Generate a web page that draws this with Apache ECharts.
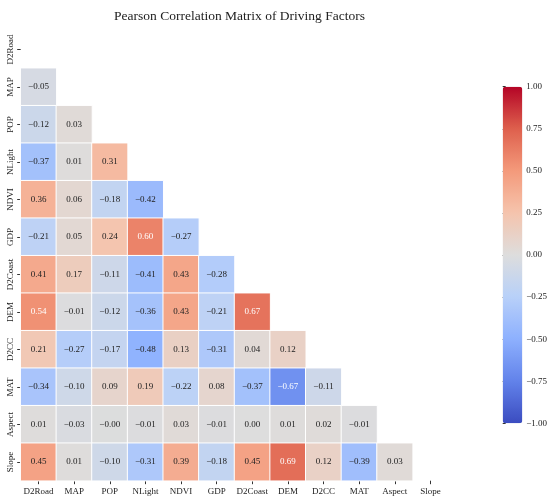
<!DOCTYPE html>
<html lang="en">
<head>
<meta charset="utf-8" />
<title>Pearson Correlation Matrix of Driving Factors</title>
<script src="https://cdn.jsdelivr.net/npm/echarts@6/dist/echarts.min.js"></script>
<style>
  html, body { margin: 0; padding: 0; background: #fff; }
  #chart { width: 550px; height: 502px; }
</style>
</head>
<body>
<div id="chart"></div>
<script>
// factor names, top-to-bottom on y and left-to-right on x
const factors = ['D2Road', 'MAP', 'POP', 'NLight', 'NDVI', 'GDP', 'D2Coast', 'DEM', 'D2CC', 'MAT', 'Aspect', 'Slope'];

// lower triangle, row i holds correlations with factors 0..i-1
const lowerTri = [
  [],
  [-0.05],
  [-0.12, 0.03],
  [-0.37, 0.01, 0.31],
  [0.36, 0.06, -0.18, -0.42],
  [-0.21, 0.05, 0.24, 0.60, -0.27],
  [0.41, 0.17, -0.11, -0.41, 0.43, -0.28],
  [0.54, -0.01, -0.12, -0.36, 0.43, -0.21, 0.67],
  [0.21, -0.27, -0.17, -0.48, 0.13, -0.31, 0.04, 0.12],
  [-0.34, -0.10, 0.09, 0.19, -0.22, 0.08, -0.37, -0.67, -0.11],
  [0.01, -0.03, -0.004, -0.01, 0.03, -0.01, 0.00, 0.01, 0.02, -0.01],
  [0.45, 0.01, -0.10, -0.31, 0.39, -0.18, 0.45, 0.69, 0.12, -0.39, 0.03]
];

// coolwarm colormap stops
const coolwarm = ['#3b4cc0', '#6282ea', '#8db0fe', '#b8d0f9', '#dddddd', '#f5c4ad', '#f49a7b', '#de604d', '#b40426'];

const fmt = function (v) {
  return v.toFixed(2).replace('-', '\u2212');
};

const cells = [];
lowerTri.forEach(function (row, i) {
  row.forEach(function (v, j) {
    cells.push({
      value: [j, i, v],
      label: { color: Math.abs(v) > 0.5 ? '#ffffff' : '#222222' }
    });
  });
});

const chart = echarts.init(document.getElementById('chart'));

const option = {
  animation: false,
  textStyle: { fontFamily: 'Liberation Serif' },
  title: {
    text: 'Pearson Correlation Matrix of Driving Factors',
    left: 234.5,
    textAlign: 'center',
    top: 4,
    textStyle: { fontFamily: 'Liberation Serif', fontSize: 13.5, fontWeight: 'normal', color: '#222' }
  },
  grid: [
    { left: 20.7, top: 30.7, width: 427.6, height: 450 },
    { left: 502.7, top: 86.7, width: 19.6, height: 336.6 }
  ],
  xAxis: [
    {
      type: 'category',
      data: factors,
      gridIndex: 0,
      axisLine: { show: false },
      axisTick: { show: true, alignWithLabel: true, length: 3.5, lineStyle: { color: '#333' } },
      axisLabel: { fontSize: 9, color: '#222', margin: 6, interval: 0 },
      splitLine: { show: false }
    },
    { type: 'value', gridIndex: 1, show: false, min: 0, max: 1 }
  ],
  yAxis: [
    {
      type: 'category',
      data: factors,
      inverse: true,
      gridIndex: 0,
      axisLine: { show: false },
      axisTick: { show: true, alignWithLabel: true, length: 3.5, lineStyle: { color: '#333' } },
      axisLabel: { fontSize: 9, color: '#222', rotate: 90, margin: 6, interval: 0 },
      splitLine: { show: false }
    },
    {
      type: 'value',
      gridIndex: 1,
      position: 'right',
      min: -1,
      max: 1,
      interval: 0.25,
      axisLine: { show: false },
      axisTick: { show: true, length: 3, lineStyle: { color: '#333' } },
      axisLabel: { fontSize: 9, color: '#222', margin: 5, formatter: fmt },
      splitLine: { show: false }
    }
  ],
  visualMap: {
    type: 'continuous',
    min: -1,
    max: 1,
    dimension: 2,
    seriesIndex: 0,
    calculable: false,
    hoverLink: false,
    left: 502.7,
    top: 86.7,
    padding: 0,
    itemWidth: 19.6,
    itemHeight: 336.6,
    inRange: { color: coolwarm }
  },
  series: [
    {
      type: 'heatmap',
      xAxisIndex: 0,
      yAxisIndex: 0,
      data: cells,
      label: {
        show: true,
        fontSize: 9,
        fontFamily: 'Liberation Serif',
        formatter: function (p) { return fmt(p.value[2]); }
      },
      itemStyle: { borderColor: '#ffffff', borderWidth: 1 },
      emphasis: { disabled: true }
    }
  ]
};

chart.setOption(option);
window.onresize = function () { chart.resize(); };
</script>
</body>
</html>
